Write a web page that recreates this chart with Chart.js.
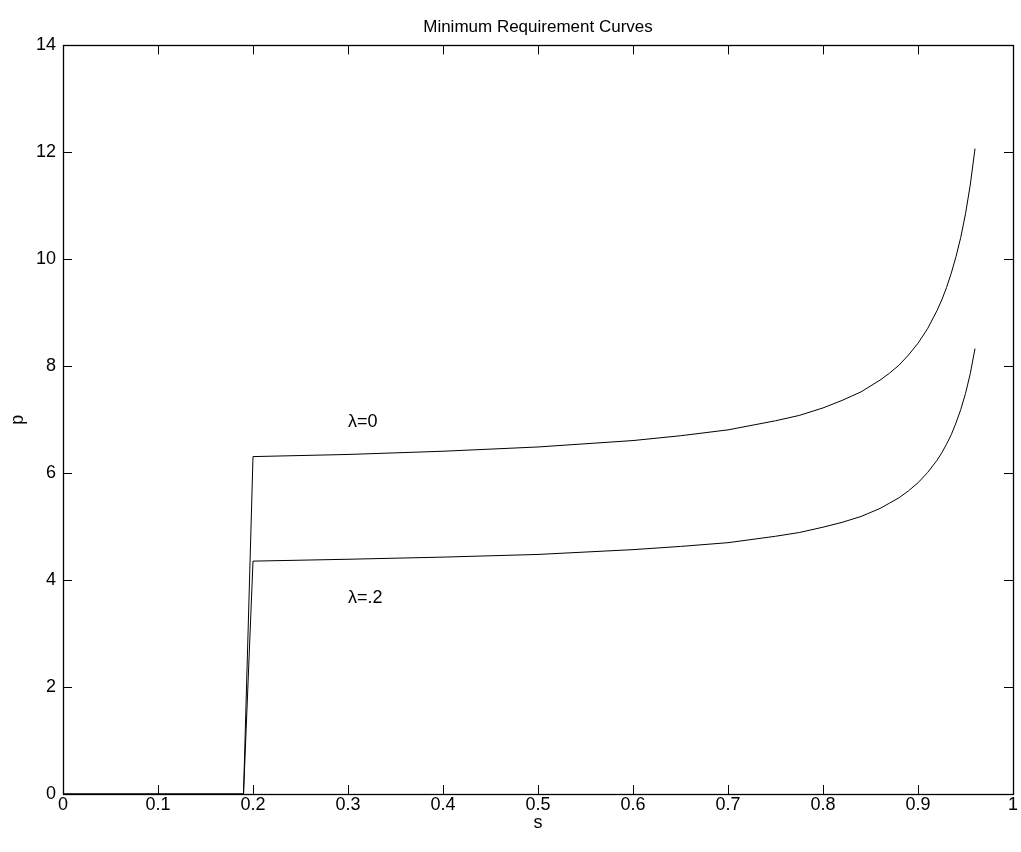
<!DOCTYPE html>
<html><head><meta charset="utf-8">
<script src="https://cdn.jsdelivr.net/npm/chart.js@4"></script>
<style>html,body{margin:0;padding:0;background:#fff}#wrap{width:1021px;height:852px}</style>
</head><body><div id="wrap"><canvas id="c" width="1021" height="852"></canvas></div>
<script>
const s =         [0, 0.19, 0.2,   0.3,  0.4,  0.5,  0.6,  0.65, 0.7,  0.75, 0.775, 0.8,  0.82, 0.84, 0.86, 0.87, 0.88, 0.89, 0.9,  0.91, 0.92, 0.925, 0.93, 0.935, 0.94,  0.945, 0.95,  0.955, 0.96];
const pLambda0 =  [0, 0,    6.31,  6.35, 6.41, 6.49, 6.61, 6.70, 6.81, 6.98, 7.08,  7.22, 7.36, 7.52, 7.74, 7.87, 8.02, 8.21, 8.43, 8.70, 9.04, 9.24,  9.47, 9.74,  10.05, 10.41, 10.85, 11.39, 12.07];
const pLambda02 = [0, 0,    4.355, 4.39, 4.43, 4.48, 4.57, 4.63, 4.70, 4.82, 4.89,  4.99, 5.08, 5.19, 5.34, 5.44, 5.54, 5.67, 5.82, 6.01, 6.24, 6.38,  6.54, 6.72,  6.94,  7.19,  7.49,  7.86,  8.33];
const xTickLabels = ['0','0.1','0.2','0.3','0.4','0.5','0.6','0.7','0.8','0.9','1'];
const yTickLabels = ['0','2','4','6','8','10','12','14'];
const curveNames = ['λ=0', 'λ=.2'];
const curveLabelS = [0.3, 0.3];
const curveLabelP = [6.95, 3.66];

const FONT = "'Liberation Sans', Arial, Helvetica, sans-serif";
const toPts = arr => s.map((x, i) => ({x: x, y: arr[i]}));

const innerTicks = {
  id: 'innerTicks',
  afterLayout(chart) {
    // centre the title over the plot box, as in the reference
    if (chart.titleBlock) {
      chart.titleBlock.left = chart.chartArea.left;
      chart.titleBlock.right = chart.chartArea.right;
    }
  },
  afterDraw(chart) {
    const {ctx, chartArea: a} = chart;
    const xs = chart.scales.x, ys = chart.scales.y;
    const L = 9;
    ctx.save();
    ctx.strokeStyle = '#000';
    ctx.lineWidth = 1;
    ctx.beginPath();
    xTickLabels.forEach(t => {
      const px = Math.round(xs.getPixelForValue(parseFloat(t))) + 0.5;
      ctx.moveTo(px, a.bottom); ctx.lineTo(px, a.bottom - L);
      ctx.moveTo(px, a.top); ctx.lineTo(px, a.top + L);
    });
    yTickLabels.forEach(t => {
      const py = Math.round(ys.getPixelForValue(parseFloat(t))) + 0.5;
      ctx.moveTo(a.left, py); ctx.lineTo(a.left + L, py);
      ctx.moveTo(a.right, py); ctx.lineTo(a.right - L, py);
    });
    ctx.stroke();
    ctx.lineWidth = 1.3;
    ctx.strokeRect(Math.round(a.left) + 0.5, Math.round(a.top) + 0.5, Math.round(a.right - a.left), Math.round(a.bottom - a.top));
    ctx.fillStyle = '#000';
    ctx.font = '18px ' + FONT;
    ctx.textBaseline = 'middle';
    ctx.textAlign = 'left';
    curveNames.forEach((n, i) => {
      ctx.fillText(n, xs.getPixelForValue(curveLabelS[i]), ys.getPixelForValue(curveLabelP[i]));
    });
    ctx.restore();
  }
};

new Chart(document.getElementById('c'), {
  type: 'line',
  data: {
    datasets: [
      {label: curveNames[0], data: toPts(pLambda0), borderColor: '#000', borderWidth: 1, pointRadius: 0, tension: 0, fill: false},
      {label: curveNames[1], data: toPts(pLambda02), borderColor: '#000', borderWidth: 1, pointRadius: 0, tension: 0, fill: false}
    ]
  },
  options: {
    responsive: false,
    animation: false,
    devicePixelRatio: 1,
    layout: {padding: {top: 0, left: 0, right: 8, bottom: 0}},
    plugins: {
      legend: {display: false},
      tooltip: {enabled: false},
      title: {display: true, text: 'Minimum Requirement Curves', color: '#000',
              font: {family: FONT, size: 17, weight: 'normal'}, padding: {top: 17, bottom: 8}}
    },
    scales: {
      x: {
        type: 'linear', min: 0, max: 1,
        afterBuildTicks: sc => { sc.ticks = xTickLabels.map(t => ({value: parseFloat(t)})); },
        ticks: {color: '#000', font: {family: FONT, size: 18}, padding: 0, maxRotation: 0,
                callback: (v, i) => xTickLabels[i]},
        grid: {display: false, drawTicks: false},
        border: {display: false},
        title: {display: true, text: 's', color: '#000', font: {family: FONT, size: 18}, padding: {top: 0, bottom: 18}},
        afterFit: sc => { sc.height = 58; }
      },
      y: {
        type: 'linear', min: 0, max: 14,
        afterBuildTicks: sc => { sc.ticks = yTickLabels.map(t => ({value: parseFloat(t)})); },
        ticks: {color: '#000', font: {family: FONT, size: 18}, padding: 7,
                callback: (v, i) => yTickLabels[i]},
        grid: {display: false, drawTicks: false},
        border: {display: false},
        title: {display: true, text: 'p', color: '#000', font: {family: FONT, size: 18}, padding: {top: 7, bottom: 7}},
        afterFit: sc => { sc.width = 63; }
      }
    }
  },
  plugins: [innerTicks]
});
</script>
</body></html>
